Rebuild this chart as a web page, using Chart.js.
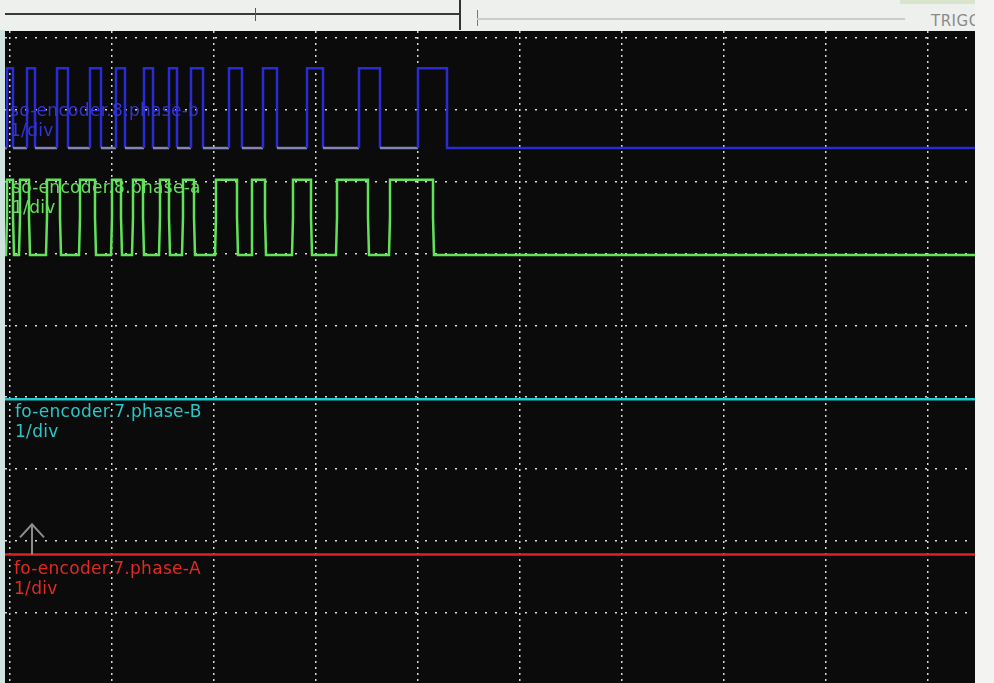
<!DOCTYPE html>
<html>
<head>
<meta charset="utf-8">
<script src="https://cdn.jsdelivr.net/npm/chart.js@4.4.0/dist/chart.umd.min.js"></script>
<style>
  html, body { margin: 0; padding: 0; }
  body { width: 994px; height: 683px; position: relative; overflow: hidden; background: #f3f4f2; font-family: "DejaVu Sans", sans-serif; }
  #topbar { position: absolute; left: 0; top: 0; width: 975px; height: 32px; overflow: hidden; background: #eef0ed; }
  #topbar div { position: absolute; }
  #leftstrip { position: absolute; left: 0; top: 30px; width: 5px; height: 653px; background: #cfe2e0; }
  #scope { position: absolute; left: 5px; top: 31px; width: 970px; height: 652px; background: #0b0b0b; }
  .lbl { position: absolute; font-size: 17px; line-height: 20px; white-space: pre; letter-spacing: 0.3px; }
</style>
</head>
<body>
<div id="topbar">
  <div style="left:900px;top:0;width:75px;height:4px;background:#d9e4cc"></div>
  <div style="left:5px;top:13px;width:455px;height:2px;background:#3a3a3a"></div>
  <div style="left:255px;top:8px;width:1px;height:13px;background:#555"></div>
  <div style="left:459px;top:0;width:2px;height:30px;background:#333"></div>
  <div style="left:477px;top:10px;width:1px;height:16px;background:#777"></div>
  <div style="left:477px;top:18px;width:428px;height:2px;background:#c8cec6"></div>
  <div style="left:931px;top:12px;font-size:15px;color:#8a8a8a;letter-spacing:0.5px">TRIGGER</div>
</div>
<div id="leftstrip"></div>
<div id="scope"><canvas id="scopeChart"></canvas></div>

<div class="lbl" style="left:10px;top:100px;color:#3535cf">so-encoder.8.phase-b
1/div</div>
<div class="lbl" style="left:12px;top:177px;color:#66e05c">so-encoder.8.phase-a
1/div</div>
<div class="lbl" style="left:15px;top:401px;color:#2ac6c8">fo-encoder.7.phase-B
1/div</div>
<div class="lbl" style="left:14px;top:558px;color:#e02a22">fo-encoder.7.phase-A
1/div</div>

<script>
// time axis in samples, 102 samples per division
const timeMin = -5;
const timeMax = 965;
const timeDivs = [0, 102, 204, 306, 408, 510, 612, 714, 816, 918];
const levelDivs = [1, 2, 3, 4, 5, 6, 7, 8, 9];

// so-encoder.8.phase-b pulses (rise / fall sample)
const blueRise = [-3, 17, 47, 80, 106, 134, 159, 181, 219, 253, 297, 349, 408];
const blueFall = [3, 25, 58, 91, 115, 143, 167, 193, 232, 267, 313, 370, 437];
const blueLow = 7.47;
const blueHigh = 8.58;

// so-encoder.8.phase-a pulses
const greenRise = [-3, 10, 37, 70, 102, 123, 150, 173, 206, 242, 283, 327, 380];
const greenFall = [3, 19, 50, 85, 111, 133, 159, 184, 227, 255, 301, 358, 423];
const greenLow = 5.98;
const greenHigh = 7.03;

// fo-encoder.7 phases stay flat
const cyanLevel = 3.97;
const redLevel = 1.81;
const triggerSample = 22;

// build a square wave from rise/fall samples
function stepTrace(rises, falls, low, high, slope) {
    const mid = (low + high) / 2;
    const pts = [{ x: timeMin, y: low }];
    rises.forEach((r, i) => {
        const f = falls[i];
        if (slope) {
            pts.push({ x: r - 1, y: low }, { x: r, y: mid }, { x: r, y: high });
            pts.push({ x: f, y: high }, { x: f, y: mid }, { x: f + 1, y: low });
        } else {
            pts.push({ x: r, y: low }, { x: r, y: high }, { x: f, y: high }, { x: f, y: low });
        }
    });
    pts.push({ x: timeMax, y: low });
    return pts;
}

function flatTrace(level) {
    return [{ x: timeMin, y: level }, { x: timeMax, y: level }];
}

// little trigger arrow above the red trace
const triggerArrow = {
    id: 'triggerArrow',
    afterDatasetsDraw(chart) {
        const { ctx, scales } = chart;
        const x = scales.x.getPixelForValue(triggerSample);
        const y0 = scales.y.getPixelForValue(redLevel);
        const y1 = scales.y.getPixelForValue(redLevel + 0.42);
        ctx.save();
        ctx.strokeStyle = '#8c8c8c';
        ctx.lineWidth = 2;
        ctx.beginPath();
        ctx.moveTo(x, y0);
        ctx.lineTo(x, y1);
        ctx.moveTo(x - 12, y1 + 13);
        ctx.lineTo(x, y1);
        ctx.lineTo(x + 12, y1 + 13);
        ctx.stroke();
        ctx.restore();
    }
};

function renderScope() {
    const ctx = document.getElementById('scopeChart').getContext('2d');
    new Chart(ctx, {
        type: 'line',
        data: {
            datasets: [{
                label: 'so-encoder.8.phase-b',
                data: stepTrace(blueRise, blueFall, blueLow, blueHigh, false),
                borderColor: '#2b2bd6',
                segment: {
                    borderColor: c => (c.p0.parsed.y === blueLow && c.p1.parsed.y === blueLow && c.p1.parsed.x < 440) ? '#8585b5' : undefined
                }
            }, {
                label: 'so-encoder.8.phase-a',
                data: stepTrace(greenRise, greenFall, greenLow, greenHigh, true),
                borderColor: '#62e25a'
            }, {
                label: 'fo-encoder.7.phase-B',
                data: flatTrace(cyanLevel),
                borderColor: '#22c8cc'
            }, {
                label: 'fo-encoder.7.phase-A',
                data: flatTrace(redLevel),
                borderColor: '#e0221e'
            }]
        },
        options: {
            responsive: true,
            maintainAspectRatio: false,
            animation: false,
            layout: { padding: 0 },
            elements: {
                line: { borderWidth: 2.5, tension: 0 },
                point: { radius: 0 }
            },
            plugins: {
                legend: { display: false },
                tooltip: { enabled: false }
            },
            scales: {
                x: {
                    type: 'linear',
                    min: timeMin,
                    max: timeMax,
                    afterBuildTicks: s => { s.ticks = timeDivs.map(v => ({ value: v })); },
                    ticks: { display: false },
                    grid: { color: '#d8d8d8', lineWidth: 1.5, drawTicks: false },
                    border: { display: false, dash: [2, 4] }
                },
                y: {
                    type: 'linear',
                    min: 0.02,
                    max: 9.1,
                    afterBuildTicks: s => { s.ticks = levelDivs.map(v => ({ value: v })); },
                    ticks: { display: false },
                    grid: { color: '#d8d8d8', lineWidth: 1.5, drawTicks: false },
                    border: { display: false, dash: [2, 8] }
                }
            }
        },
        plugins: [triggerArrow]
    });
}

renderScope();
</script>
</body>
</html>
